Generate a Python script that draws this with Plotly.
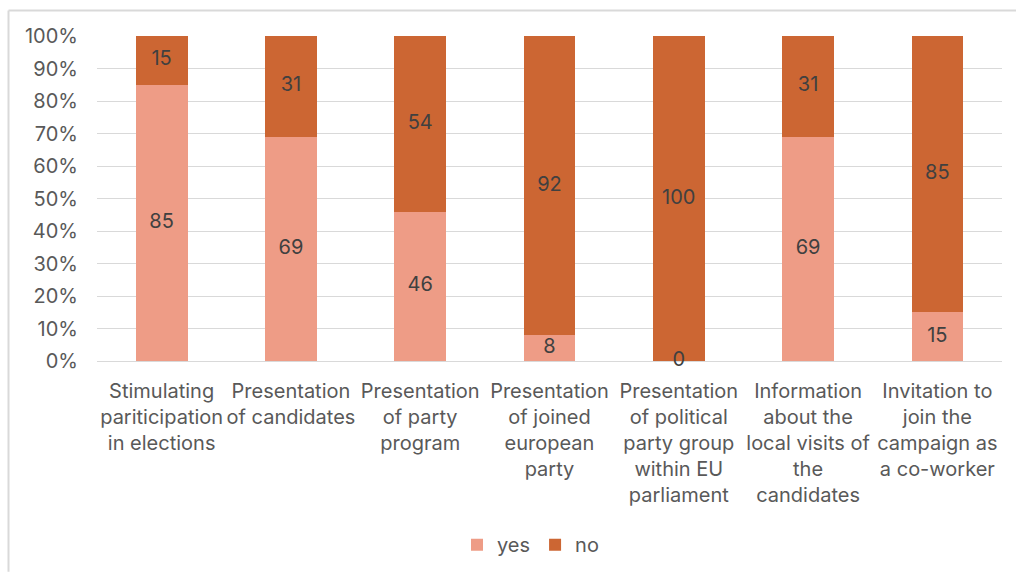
import plotly.graph_objects as go

# Survey topics (category labels wrapped as in the chart)
categories = [
    "Stimulating<br>pariticipation<br>in elections",
    "Presentation<br>of candidates",
    "Presentation<br>of party<br>program",
    "Presentation<br>of joined<br>european<br>party",
    "Presentation<br>of political<br>party group<br>within EU<br>parliament",
    "Information<br>about the<br>local visits of<br>the<br>candidates",
    "Invitation to<br>join the<br>campaign as<br>a co-worker",
]
yes_values = [85, 69, 46, 8, 0, 69, 15]
no_values = [15, 31, 54, 92, 100, 31, 85]
y_ticks = [0, 10, 20, 30, 40, 50, 60, 70, 80, 90, 100]

YES_COLOR = "#EE9C86"
NO_COLOR = "#CC6633"
FONT = "Inter"
LABEL_COLOR = "#404040"
AXIS_COLOR = "#595959"
FS = 20

fig = go.Figure()
fig.add_bar(x=categories, y=yes_values, name="yes", marker_color=YES_COLOR,
            marker_line_width=0, hoverinfo="skip")
fig.add_bar(x=categories, y=no_values, name="no", marker_color=NO_COLOR,
            marker_line_width=0, hoverinfo="skip")

# Value labels centred in each stacked segment
yes_mid = [v / 2 for v in yes_values]
no_mid = [y + n / 2 for y, n in zip(yes_values, no_values)]
fig.add_scatter(x=categories, y=yes_mid, mode="text",
                text=[str(v) for v in yes_values], textposition="middle center",
                textfont=dict(family=FONT, size=FS, color=LABEL_COLOR),
                showlegend=False, hoverinfo="skip", cliponaxis=False)
fig.add_scatter(x=categories, y=no_mid, mode="text",
                text=[str(v) for v in no_values], textposition="middle center",
                textfont=dict(family=FONT, size=FS, color=LABEL_COLOR),
                showlegend=False, hoverinfo="skip", cliponaxis=False)

fig.update_layout(
    width=1016, height=576,
    margin=dict(l=97, r=14, t=36, b=210),
    paper_bgcolor="white", plot_bgcolor="white",
    barmode="stack", bargap=0.6,
    font=dict(family=FONT, size=FS, color=AXIS_COLOR),
    showlegend=True,
    legend=dict(orientation="h", x=0.479, xanchor="center", y=-0.565,
                yanchor="middle", font=dict(size=FS, color=AXIS_COLOR),
                itemwidth=30, traceorder="normal"),
    xaxis=dict(range=[-0.5, 6.5], showgrid=False, showline=False, ticks="",
               tickangle=0, ticklabelstandoff=16,
               tickfont=dict(family=FONT, size=FS, color=AXIS_COLOR)),
    yaxis=dict(range=[0, 100], tickvals=y_ticks,
               ticktext=[f"{t}%" for t in y_ticks],
               showgrid=True, gridcolor="#D9D9D9", gridwidth=1,
               zeroline=True, zerolinecolor="#D9D9D9", zerolinewidth=1,
               showline=False, ticks="", ticklabelstandoff=18,
               tickfont=dict(family=FONT, size=FS, color=AXIS_COLOR)),
)

# Chart frame (left and top edges visible)
fig.add_shape(type="line", xref="paper", yref="paper",
              x0=(8.5 - 97) / 905, x1=(8.5 - 97) / 905,
              y0=(366 - 10) / 330, y1=(366 - 580) / 330,
              line=dict(color="#D9D9D9", width=2), layer="below")
fig.add_shape(type="line", xref="paper", yref="paper",
              x0=(8.5 - 97) / 905, x1=(1020 - 97) / 905,
              y0=(366 - 10) / 330, y1=(366 - 10) / 330,
              line=dict(color="#D9D9D9", width=2), layer="below")

fig.write_html("out.html")
